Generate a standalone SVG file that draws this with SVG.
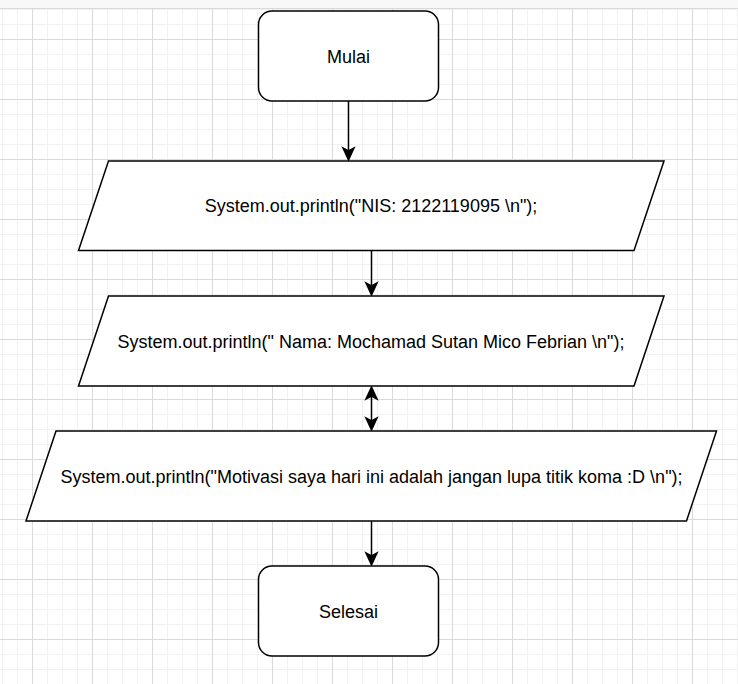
<svg xmlns="http://www.w3.org/2000/svg" width="738" height="684" viewBox="0 0 738 684">
<style>
.shape{fill:#fff;stroke:#000;stroke-width:1.5}
.lbl{font-family:"Liberation Sans",Arial,sans-serif;font-size:18px;fill:#000;text-anchor:middle}
.conn{stroke:#000;stroke-width:1.5;fill:none}
.head{fill:#000;stroke:#000;stroke-width:1.5;stroke-linejoin:miter}
</style>
<defs>
<pattern id="grid" patternUnits="userSpaceOnUse" x="2" y="9" width="60" height="60">
<path d="M0.5 0V60M15.5 0V60M45.5 0V60M0 0.5H60M0 15.5H60M0 45.5H60" stroke="#f2f2f2" stroke-width="1"/>
<path d="M30.5 0V60M0 30.5H60" stroke="#dadada" stroke-width="1"/>
</pattern>
</defs>
<rect width="738" height="684" fill="#fff"/>
<rect width="738" height="684" fill="url(#grid)"/>
<rect width="738" height="8" fill="#f8f8f8"/>
<path d="M0 8.5H738" stroke="#dadada"/>

<g id="connectors">
<path class="conn" d="M348.5 101V151"/>
<path class="head" d="M348.5 160L343 148L348.5 151L354 148Z"/>
<path class="conn" d="M371.5 250V286"/>
<path class="head" d="M371.5 295L366 283L371.5 286L377 283Z"/>
<path class="conn" d="M371.5 396V421"/>
<path class="head" d="M371.5 387L366 399L371.5 396L377 399Z"/>
<path class="head" d="M371.5 430L366 418L371.5 421L377 418Z"/>
<path class="conn" d="M371.5 521V556"/>
<path class="head" d="M371.5 565L366 553L371.5 556L377 553Z"/>
</g>

<g id="mulai">
<rect class="shape" x="258.5" y="11" width="180" height="90" rx="13.5" ry="13.5"/>
<text class="lbl" x="348.5" y="62.5">Mulai</text>
</g>

<g id="print-nis">
<path class="shape" d="M108.5 161H664L634 250.5H78.5Z"/>
<text class="lbl" x="371" y="212">System.out.println("NIS: 2122119095 \n");</text>
</g>

<g id="print-nama">
<path class="shape" d="M108.5 296H664L634 386H78.5Z"/>
<text class="lbl" x="371" y="347.5">System.out.println(" Nama: Mochamad Sutan Mico Febrian \n");</text>
</g>

<g id="print-motivasi">
<path class="shape" d="M56 431H716.5L686.5 521H26Z"/>
<text class="lbl" x="371.5" y="482.5">System.out.println("Motivasi saya hari ini adalah jangan lupa titik koma :D \n");</text>
</g>

<g id="selesai">
<rect class="shape" x="258.5" y="566" width="180" height="90" rx="13.5" ry="13.5"/>
<text class="lbl" x="348.5" y="617.5">Selesai</text>
</g>
</svg>
